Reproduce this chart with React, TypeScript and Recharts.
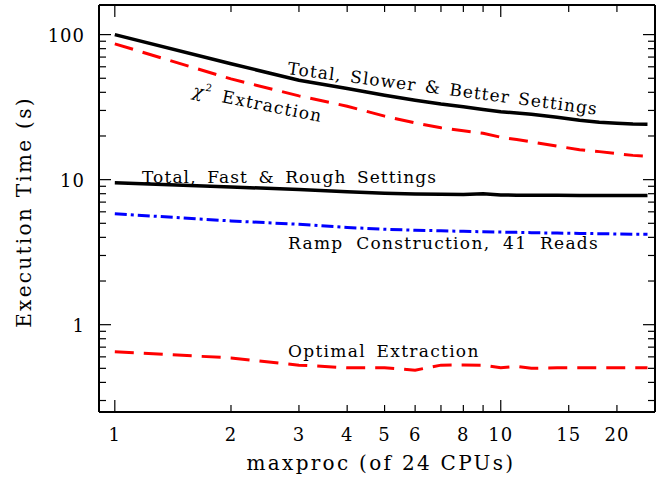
import React from 'react';
import { LineChart, Line, XAxis, YAxis } from 'recharts';

// maxproc values and timings (s)
const cpus = [1, 2, 3, 4, 5, 6, 7, 8, 9, 10, 11, 12, 14, 16, 18, 20, 22, 24];
const totalSlow = [100, 63, 48.4, 42.5, 38.2, 35.3, 33.2, 31.8, 30.5, 29.4, 28.8, 28.2, 26.9, 25.7, 24.9, 24.5, 24.2, 24.1];
const chi2 = [86.4, 49.5, 37.8, 32.1, 27.4, 24.6, 22.8, 21.7, 20.9, 19.6, 18.9, 18.2, 17.0, 16.1, 15.6, 15.1, 14.7, 14.5];
const totalFast = [9.5, 8.9, 8.55, 8.25, 8.05, 7.95, 7.92, 7.9, 8.0, 7.85, 7.82, 7.8, 7.8, 7.78, 7.77, 7.76, 7.76, 7.76];
const ramp = [5.82, 5.19, 4.92, 4.68, 4.55, 4.48, 4.44, 4.4, 4.37, 4.35, 4.33, 4.31, 4.28, 4.26, 4.24, 4.22, 4.21, 4.2];
const optimal = [0.65, 0.59, 0.526, 0.505, 0.505, 0.486, 0.526, 0.527, 0.526, 0.505, 0.515, 0.5, 0.505, 0.505, 0.505, 0.505, 0.505, 0.505];

const xTicks = [1, 2, 3, 4, 5, 6, 7, 8, 9, 10, 15, 20];
const xLabels = [1, 2, 3, 4, 5, 6, 8, 10, 15, 20];
const xMajor = [1, 10];
const yTicks = [0.3, 0.4, 0.5, 0.6, 0.7, 0.8, 0.9, 1, 2, 3, 4, 5, 6, 7, 8, 9, 10, 20, 30, 40, 50, 60, 70, 80, 90, 100];
const yLabels = [1, 10, 100];

const data = cpus.map((c, i) => ({
  cpu: c,
  totalSlow: totalSlow[i],
  chi2: chi2[i],
  totalFast: totalFast[i],
  ramp: ramp[i],
  optimal: optimal[i],
}));

const FONT = '"DejaVu Serif", serif';

const AxisTick = (props: any) => {
  const { x, y, payload, side } = props;
  const v = payload.value;
  const isX = side === 'bottom' || side === 'top';
  const major = isX ? xMajor.includes(v) : yLabels.includes(v);
  const len = major ? 12 : 7;
  let line;
  if (side === 'bottom') line = <line x1={x} y1={y} x2={x} y2={y - len} />;
  else if (side === 'top') line = <line x1={x} y1={y} x2={x} y2={y + len} />;
  else if (side === 'left') line = <line x1={x} y1={y} x2={x + len} y2={y} />;
  else line = <line x1={x} y1={y} x2={x - len} y2={y} />;
  let label = null;
  if (side === 'bottom' && xLabels.includes(v)) {
    label = (
      <text x={x} y={y + 29} textAnchor="middle" fontFamily={FONT} fontSize={18} letterSpacing={1} fill="#000">
        {v}
      </text>
    );
  }
  if (side === 'left' && yLabels.includes(v)) {
    label = (
      <text x={x - 14} y={y + 7} textAnchor="end" fontFamily={FONT} fontSize={18} letterSpacing={1} fill="#000">
        {v}
      </text>
    );
  }
  return (
    <g>
      <g stroke="#000" strokeWidth={1.2}>{line}</g>
      {label}
    </g>
  );
};

const axisLine = { stroke: '#000', strokeWidth: 2 };
const xDomain: [number, number] = [0.91, 25.1];
const yDomain: [number, number] = [0.25, 160];

const App = () => {
  return (
    <div style={{ position: 'absolute', left: 0, top: 0, width: 667, height: 477, background: '#fff' }}>
      <LineChart width={667} height={477} data={data} margin={{ top: 0, right: 0, bottom: 0, left: 0 }}>
        <XAxis xAxisId="b" orientation="bottom" dataKey="cpu" type="number" scale="log" domain={xDomain}
          allowDataOverflow ticks={xTicks} interval={0} height={65} tickSize={0} tickMargin={0}
          tickLine={false} axisLine={axisLine} tick={(p: any) => <AxisTick {...p} side="bottom" />} />
        <XAxis xAxisId="t" orientation="top" dataKey="cpu" type="number" scale="log" domain={xDomain}
          allowDataOverflow ticks={xTicks} interval={0} height={5} tickSize={0} tickMargin={0}
          tickLine={false} axisLine={axisLine} tick={(p: any) => <AxisTick {...p} side="top" />} />
        <YAxis yAxisId="l" orientation="left" type="number" scale="log" domain={yDomain}
          allowDataOverflow ticks={yTicks} interval={0} width={99} tickSize={0} tickMargin={0}
          tickLine={false} axisLine={axisLine} tick={(p: any) => <AxisTick {...p} side="left" />} />
        <YAxis yAxisId="r" orientation="right" type="number" scale="log" domain={yDomain}
          allowDataOverflow ticks={yTicks} interval={0} width={12} tickSize={0} tickMargin={0}
          tickLine={false} axisLine={axisLine} tick={(p: any) => <AxisTick {...p} side="right" />} />

        <Line xAxisId="b" yAxisId="l" type="linear" dataKey="totalSlow" stroke="#000" strokeWidth={3.5}
          dot={false} isAnimationActive={false} />
        <Line xAxisId="b" yAxisId="l" type="linear" dataKey="chi2" stroke="#ff0000" strokeWidth={3}
          strokeDasharray="19 10" dot={false} isAnimationActive={false} />
        <Line xAxisId="b" yAxisId="l" type="linear" dataKey="totalFast" stroke="#000" strokeWidth={3.5}
          dot={false} isAnimationActive={false} />
        <Line xAxisId="b" yAxisId="l" type="linear" dataKey="ramp" stroke="#0000ff" strokeWidth={3}
          strokeDasharray="12 4 3 4" dot={false} isAnimationActive={false} />
        <Line xAxisId="b" yAxisId="l" type="linear" dataKey="optimal" stroke="#ff0000" strokeWidth={3}
          strokeDasharray="19 10" dot={false} isAnimationActive={false} />
      </LineChart>

      <svg width={667} height={477} style={{ position: 'absolute', left: 0, top: 0, pointerEvents: 'none' }}
        fontFamily={FONT} fill="#000">
        <text x={381} y={470} textAnchor="middle" fontSize={20} letterSpacing={2.3}>maxproc (of 24 CPUs)</text>
        <text x={31} y={212} textAnchor="middle" fontSize={20} letterSpacing={2.3} transform="rotate(-90 31 212)">
          Execution Time (s)
        </text>
        <text x={287} y={74} fontSize={17} letterSpacing={1.1} wordSpacing={2} transform="rotate(7.5 287 74)">
          Total, Slower &amp; Better Settings
        </text>
        <text x={192} y={96} fontSize={17} letterSpacing={1.2} wordSpacing={4} transform="rotate(11.5 192 96)">
          <tspan fontStyle="italic">χ</tspan>
          <tspan dy={-8} fontSize={10}>2</tspan>
          <tspan dy={8}> Extraction</tspan>
        </text>
        <text x={142} y={183} fontSize={17} letterSpacing={1.1} wordSpacing={4}>Total, Fast &amp; Rough Settings</text>
        <text x={288} y={249} fontSize={17} letterSpacing={1.3} wordSpacing={6}>Ramp Construction, 41 Reads</text>
        <text x={288} y={357} fontSize={17} letterSpacing={1.3} wordSpacing={4}>Optimal Extraction</text>
      </svg>
    </div>
  );
};

export default App;
